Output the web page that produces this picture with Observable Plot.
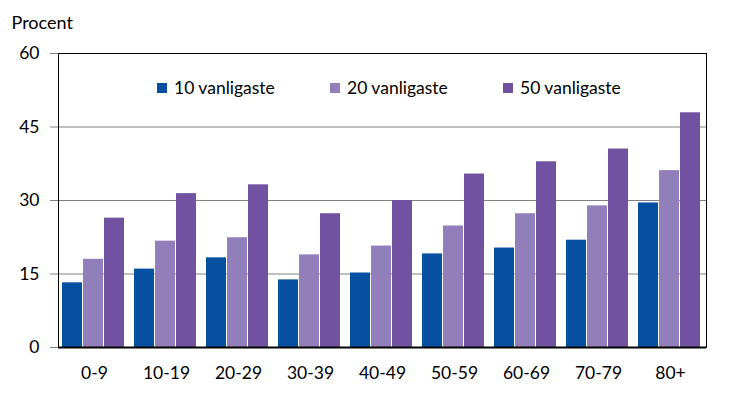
<!DOCTYPE html>
<html><head><meta charset="utf-8">
<script src="https://cdn.jsdelivr.net/npm/d3@7"></script>
<script src="https://cdn.jsdelivr.net/npm/@observablehq/plot@0.6"></script>
<style>
body{margin:0;background:#fff;font-family:Lato,sans-serif}
#chart{position:relative;width:731px;height:400px}
#legend{position:absolute;left:157px;top:71px}
#legend > div{font-family:Lato,sans-serif !important;font-size:17.5px !important;color:#000;margin:0 !important}
#legend span{margin-right:0 !important;width:173px}
#legend svg{margin-right:7px !important}
</style></head><body><div id="chart"><div id="legend"></div></div>
<script>
const ages = ["0-9","10-19","20-29","30-39","40-49","50-59","60-69","70-79","80+"];
const series = ["10 vanligaste","20 vanligaste","50 vanligaste"];
const v10 = [13.2,16.0,18.3,13.8,15.2,19.1,20.3,21.9,29.5];
const v20 = [18.0,21.7,22.4,18.9,20.7,24.8,27.3,28.9,36.1];
const v50 = [26.4,31.4,33.2,27.3,30.0,35.4,37.9,40.5,47.9];
const colors = ["#0550A0","#927EBB","#7052A1"];
const yTicks = [0,15,30,45,60];
const gridTicks = [15,30,45];
const yLabel = "Procent";

const values = [v10, v20, v50];
const data = ages.flatMap((a,i)=>series.map((s,j)=>({age:a, series:s, value:values[j][i]})));

const plot = Plot.plot({
  width:731, height:400,
  marginLeft:54, marginRight:21, marginTop:53, marginBottom:53,
  style:{fontFamily:"Lato, sans-serif", fontSize:"17px", color:"#000", background:"#fff"},
  fx:{domain:ages, padding:0, label:null},
  x:{domain:series, paddingInner:0.07, paddingOuter:0.23, align:0.4, axis:null},
  y:{domain:[0,60], axis:null},
  color:{domain:series, range:colors},
  marks:[
    Plot.ruleY(gridTicks, {stroke:"#808080", strokeWidth:1}),
    Plot.barY(data, {fx:"age", x:"series", y:"value", fill:"series"}),
    Plot.axisFx({anchor:"bottom", tickSize:0, tickPadding:19, label:null, fontSize:17.5}),
    Plot.axisY(yTicks, {tickSize:8, tickPadding:11, stroke:"#808080", label:null, fontSize:17.5}),
    Plot.ruleY([0], {stroke:"#000", strokeWidth:2}),
    Plot.frame({facet:"super", stroke:"#000"}),
    Plot.text([yLabel], {facet:"super", frameAnchor:"top-left", dx:-47, dy:-37, textAnchor:"start", fontSize:18})
  ]
});
document.getElementById("chart").appendChild(plot);
const leg = plot.legend("color", {swatchSize:10});
document.getElementById("legend").appendChild(leg);
</script></body></html>
